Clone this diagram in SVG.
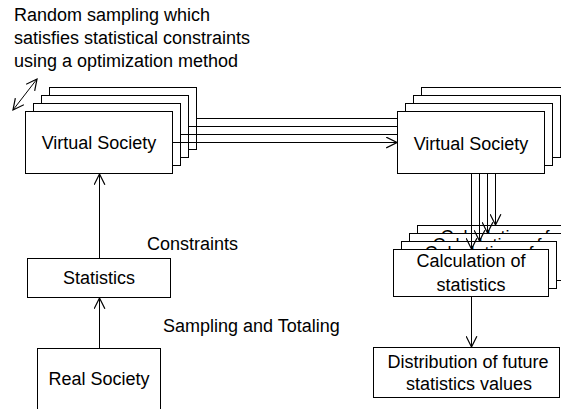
<svg xmlns="http://www.w3.org/2000/svg" width="561" height="409" viewBox="0 0 561 409">
<defs>
<marker id="arr" markerUnits="userSpaceOnUse" markerWidth="12" markerHeight="12" refX="9" refY="5" orient="auto-start-reverse" viewBox="0 0 10 10">
<path d="M0,0.5 L9,5 L0,9.5" fill="none" stroke="#000" stroke-width="1"/>
</marker>
<clipPath id="clip4"><rect x="417" y="225" width="156" height="8"/></clipPath>
<clipPath id="clip3"><rect x="409" y="233" width="156" height="8"/></clipPath>
<clipPath id="clip2"><rect x="401" y="241" width="156" height="8"/></clipPath>
<style>
.box{fill:#fff;stroke:#000;stroke-width:1}
.t{font-family:"Liberation Sans",Arial,sans-serif;font-size:18px;fill:#000}
.c{text-anchor:middle}
.ln{fill:none;stroke:#000;stroke-width:1}
.a{marker-end:url(#arr)}
</style>
</defs>
<rect width="561" height="409" fill="#fff"/>
<g id="note">
<text class="t" x="14" y="21">Random sampling which</text>
<text class="t" x="14" y="44">satisfies statistical constraints</text>
<text class="t" x="14" y="67">using a optimization method</text>
</g>
<g id="vs-left">
<rect class="box" x="49.5" y="87.5" width="147" height="62"/>
<rect class="box" x="41.5" y="95.5" width="147" height="62"/>
<rect class="box" x="33.5" y="103.5" width="147" height="62"/>
<rect class="box" x="25.5" y="111.5" width="147" height="62"/>
<text class="t c" x="99" y="149">Virtual Society</text>
</g>
<g id="vs-right">
<rect class="box" x="421.5" y="87.5" width="147" height="62"/>
<rect class="box" x="413.5" y="95.5" width="147" height="62"/>
<rect class="box" x="405.5" y="103.5" width="147" height="62"/>
<rect class="box" x="397.5" y="111.5" width="147" height="62"/>
<text class="t c" x="471" y="150">Virtual Society</text>
</g>
<g id="statistics">
<rect class="box" x="27.5" y="258.5" width="143" height="39"/>
<text class="t c" x="99" y="284">Statistics</text>
</g>
<g id="real-society">
<rect class="box" x="37.5" y="348.5" width="123" height="75"/>
<text class="t c" x="99" y="385">Real Society</text>
</g>
<g id="calc-4">
<rect class="box" x="417.5" y="225.5" width="156" height="47"/>
<text class="t c" x="495" y="243" clip-path="url(#clip4)">Calculation of</text>
</g>
<g id="calc-3">
<rect class="box" x="409.5" y="233.5" width="156" height="47"/>
<text class="t c" x="487" y="251" clip-path="url(#clip3)">Calculation of</text>
</g>
<g id="calc-2">
<rect class="box" x="401.5" y="241.5" width="155" height="47"/>
<text class="t c" x="479" y="259" clip-path="url(#clip2)">Calculation of</text>
</g>
<g id="calc-1">
<rect class="box" x="393.5" y="249.5" width="155" height="47"/>
<text class="t c" x="471" y="267">Calculation of</text>
<text class="t c" x="471" y="291">statistics</text>
</g>
<g id="distribution">
<rect class="box" x="373.5" y="347.5" width="186" height="50"/>
<text class="t c" x="468" y="368">Distribution of future</text>
<text class="t c" x="469" y="390">statistics values</text>
</g>
<g id="connectors">
<line class="ln a" x1="13" y1="110" x2="37" y2="79" marker-start="url(#arr)"/>
<line class="ln a" x1="99.5" y1="258" x2="99.5" y2="174"/>
<line class="ln a" x1="99.5" y1="348" x2="99.5" y2="298"/>
<line class="ln" x1="197" y1="118.5" x2="397" y2="118.5"/>
<line class="ln" x1="189" y1="126.5" x2="397" y2="126.5"/>
<line class="ln" x1="181" y1="134.5" x2="397" y2="134.5"/>
<line class="ln a" x1="173" y1="142.5" x2="397" y2="142.5"/>
<line class="ln a" x1="471.5" y1="174" x2="471.5" y2="249"/>
<line class="ln a" x1="479.5" y1="174" x2="479.5" y2="241"/>
<line class="ln a" x1="487.5" y1="174" x2="487.5" y2="233"/>
<line class="ln a" x1="495.5" y1="174" x2="495.5" y2="225"/>
<line class="ln a" x1="471.5" y1="297" x2="471.5" y2="347"/>
</g>
<text class="t" x="147" y="250">Constraints</text>
<text class="t" x="163" y="332">Sampling and Totaling</text>
</svg>
